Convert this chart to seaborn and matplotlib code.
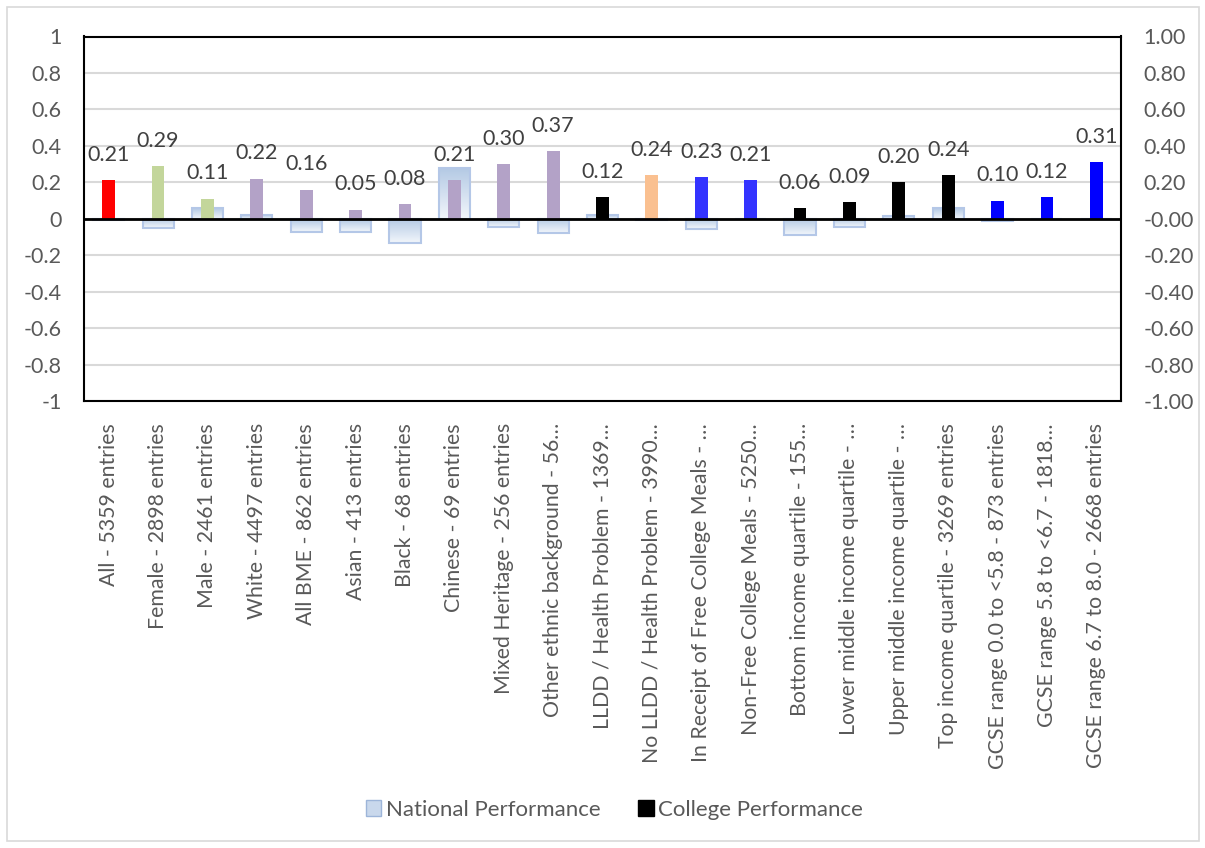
import matplotlib
matplotlib.use("Agg")
import matplotlib.pyplot as plt
import numpy as np
import seaborn as sns
from matplotlib.patches import Patch, Rectangle

categories = [
    "All - 5359 entries",
    "Female - 2898 entries",
    "Male - 2461 entries",
    "White - 4497 entries",
    "All BME - 862 entries",
    "Asian - 413 entries",
    "Black - 68 entries",
    "Chinese - 69 entries",
    "Mixed Heritage - 256 entries",
    "Other ethnic background - 56\u2026",
    "LLDD / Health Problem - 1369\u2026",
    "No LLDD / Health Problem - 3990\u2026",
    "In Receipt of Free College Meals - \u2026",
    "Non-Free College Meals - 5250\u2026",
    "Bottom income quartile - 155\u2026",
    "Lower middle income quartile - \u2026",
    "Upper middle income quartile - \u2026",
    "Top income quartile - 3269 entries",
    "GCSE range 0.0 to <5.8 - 873 entries",
    "GCSE range 5.8 to <6.7 - 1818\u2026",
    "GCSE range 6.7 to 8.0 - 2668 entries",
]
national = [-0.005, -0.05, 0.06, 0.02, -0.07, -0.07, -0.135, 0.28, -0.045, -0.08,
            0.02, -0.005, -0.055, -0.003, -0.09, -0.045, 0.015, 0.06, -0.01, -0.002, -0.002]
college = [0.21, 0.29, 0.11, 0.22, 0.16, 0.05, 0.08, 0.21, 0.30, 0.37,
           0.12, 0.24, 0.23, 0.21, 0.06, 0.09, 0.20, 0.24, 0.10, 0.12, 0.31]
college_colors = ["#FF0000", "#C3D69B", "#C3D69B", "#B3A2C7", "#B3A2C7", "#B3A2C7",
                  "#B3A2C7", "#B3A2C7", "#B3A2C7", "#B3A2C7", "#000000", "#FAC090",
                  "#3333FF", "#3333FF", "#000000", "#000000", "#000000", "#000000",
                  "#0000FF", "#0000FF", "#0000FF"]

sns.set_style("white")
plt.rcParams["font.family"] = ["Lato", "DejaVu Sans"]
text_gray = "#595959"

fig = plt.figure(figsize=(12.05, 8.48), dpi=100)
ax = fig.add_axes([84 / 1205, 1 - 401 / 848, (1121 - 84) / 1205, (401 - 36.5) / 848])

# national performance: wide pale bars with a vertical gradient
sns.barplot(x=categories, y=national, color="#C9D8EC", saturation=1, width=0.63, ax=ax,
            edgecolor="#B4C7E7", linewidth=1.5, zorder=2)
grad = np.linspace(0, 1, 64).reshape(-1, 1)
cmap = matplotlib.colors.LinearSegmentedColormap.from_list("g", ["#F2F6FB", "#B3C9E4"])
for p in list(ax.patches):
    x0, y0 = p.get_x(), p.get_y()
    w, h = p.get_width(), p.get_height()
    lo, hi = min(y0, y0 + h), max(y0, y0 + h)
    if hi - lo < 1e-6:
        continue
    im = ax.imshow(grad, cmap=cmap, aspect="auto", extent=(x0, x0 + w, hi, lo),
                   zorder=2.1, origin="upper")
    im.set_clip_path(p)
    p.set_facecolor("none")
    p.set_zorder(2.2)
n_nat = len(ax.patches)

# college performance: narrow coloured bars
sns.barplot(x=categories, y=college, hue=categories, palette=college_colors, saturation=1,
            width=0.26, dodge=False, legend=False, ax=ax, zorder=3, linewidth=0)
for p, v in zip(ax.patches[n_nat:], college):
    ax.annotate(f"{v:.2f}", (p.get_x() + p.get_width() / 2, v), xytext=(0, 11),
                textcoords="offset points", ha="center", va="bottom",
                fontsize=15.5, color="#404040", zorder=5)

ax.set_xlim(-0.5, len(categories) - 0.5)
ax.set_ylim(-1, 1)
ticks = np.round(np.arange(-1, 1.01, 0.2), 1)
ax.set_yticks(ticks)
ax.set_yticklabels([f"{t:g}" if abs(t) > 1e-9 else "0" for t in ticks])
ax.yaxis.grid(True, color="#D9D9D9", linewidth=1.5, zorder=0)
ax.set_axisbelow(True)
ax.axhline(0, color="black", linewidth=2, zorder=4)
for s in ax.spines.values():
    s.set_visible(True)
    s.set_color("black")
    s.set_linewidth(1.5)
ax.tick_params(axis="y", length=0, pad=16, labelsize=15.5, labelcolor=text_gray)
ax.tick_params(axis="x", length=0, pad=16, labelsize=15.3, labelcolor=text_gray, rotation=90)
ax.set_xlabel("")
ax.set_ylabel("")

ax2 = ax.twinx()
ax2.set_ylim(-1, 1)
ax2.set_yticks(ticks)
ax2.set_yticklabels([f"{t:.2f}" for t in ticks])
ax2.tick_params(axis="y", length=0, pad=16, labelsize=15.5, labelcolor=text_gray)
ax2.grid(False)
for s in ax2.spines.values():
    s.set_visible(False)

handles = [Patch(facecolor="#C9D8EC", edgecolor="#9DB5D9", label="National Performance"),
           Patch(facecolor="black", edgecolor="black", label="College Performance")]
fig.legend(handles=handles, loc="center", bbox_to_anchor=(0.51, 0.045), ncol=2,
           frameon=False, fontsize=16, labelcolor=text_gray, handlelength=0.7,
           handleheight=0.7, handletextpad=0.2, columnspacing=1.7)

fig.patches.append(Rectangle((7 / 1205, 7 / 848), 1192 / 1205, 834 / 848,
                             transform=fig.transFigure, fill=False,
                             edgecolor="#D9D9D9", linewidth=1.2))

fig.savefig("out.png", dpi=100)
